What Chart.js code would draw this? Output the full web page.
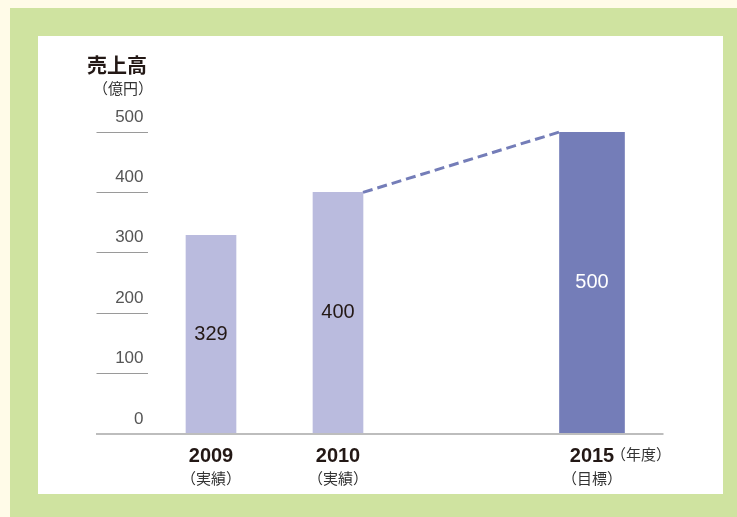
<!DOCTYPE html>
<html lang="ja">
<head>
    <meta charset="UTF-8">
    <title>売上高</title>
    <style>
        * { margin: 0; padding: 0; box-sizing: border-box; }
        body { width: 737px; height: 517px; background: #fffbe8; position: relative; overflow: hidden; }
        .green { position: absolute; left: 10px; top: 8px; right: 0; bottom: 0; background: #cfe3a0; }
        .panel { position: absolute; left: 38px; top: 36px; width: 685px; height: 458px; background: #fff; }
        canvas { position: absolute; left: 0; top: 0; }
    </style>
</head>
<body>
    <div class="green"></div>
    <div class="panel"></div>
    <canvas id="chart" width="737" height="517"></canvas>

    <script src="https://cdn.jsdelivr.net/npm/chart.js"></script>
    <script>
        // データ
        const years = ['2009', '2010', '', '2015'];
        const subLabels = ['（実績）', '（実績）', '', '（目標）'];
        const actual = [329, 400, null, null];
        const target = [null, null, null, 500];
        const yTicks = [0, 100, 200, 300, 400, 500];

        const NUM_FONT = '"Liberation Sans", sans-serif';
        const JP_FONT = '"Noto Sans CJK JP", sans-serif';
        const INK = '#231815';

        const decor = {
            id: 'decor',
            afterDatasetsDraw(chart) {
                const ctx = chart.ctx;
                const ys = chart.scales.y;
                const xs = chart.scales.x;
                const area = chart.chartArea;
                ctx.save();

                // ベースライン
                const y0 = ys.getPixelForValue(0);
                ctx.strokeStyle = '#bdbdbd';
                ctx.lineWidth = 2;
                ctx.beginPath();
                ctx.moveTo(ys.left, y0);
                ctx.lineTo(area.right + 8, y0);
                ctx.stroke();

                // 実績の最後 → 目標 の点線
                let last = -1;
                actual.forEach((v, i) => { if (v != null) last = i; });
                const goal = target.findIndex(v => v != null);
                const a = chart.getDatasetMeta(0).data[last].getProps(['x', 'y', 'width'], true);
                const t = chart.getDatasetMeta(1).data[goal].getProps(['x', 'y', 'width'], true);
                ctx.strokeStyle = '#747db8';
                ctx.lineWidth = 3;
                ctx.setLineDash([10, 5]);
                ctx.beginPath();
                ctx.moveTo(a.x + a.width / 2, a.y);
                ctx.lineTo(t.x - t.width / 2, t.y);
                ctx.stroke();
                ctx.setLineDash([]);

                // 棒の中の数値
                ctx.textAlign = 'center';
                ctx.textBaseline = 'middle';
                ctx.font = '20px ' + NUM_FONT;
                [actual, target].forEach((arr, d) => {
                    chart.getDatasetMeta(d).data.forEach((el, i) => {
                        if (arr[i] == null) return;
                        const p = el.getProps(['x', 'y', 'base'], true);
                        ctx.fillStyle = d === 0 ? INK : '#ffffff';
                        ctx.fillText(String(arr[i]), p.x, (p.y + p.base) / 2);
                    });
                });

                // 単位・タイトル
                ctx.textAlign = 'left';
                ctx.fillStyle = INK;
                ctx.font = 'bold 20px ' + JP_FONT;
                ctx.fillText('売上高', 87, 65);
                ctx.font = '15px ' + JP_FONT;
                ctx.fillStyle = '#333';
                ctx.fillText('（億円）', 93, 88);

                // 年度
                const gx = xs.getPixelForValue(goal);
                ctx.fillText('（年度）', gx + 19, 454);
                ctx.restore();
            }
        };

        new Chart(document.getElementById('chart'), {
            type: 'bar',
            data: {
                labels: years,
                datasets: [
                    { label: '実績', data: actual, backgroundColor: '#babbde', barThickness: 50, grouped: false },
                    { label: '目標', data: target, backgroundColor: '#747db8', barThickness: 65, grouped: false }
                ]
            },
            options: {
                responsive: false,
                animation: false,
                events: [],
                layout: { padding: { left: 96, right: 81.5, top: 132, bottom: 21 } },
                plugins: { legend: { display: false }, tooltip: { enabled: false } },
                scales: {
                    y: {
                        min: 0,
                        max: 500,
                        afterBuildTicks: s => { s.ticks = yTicks.map(v => ({ value: v })); },
                        afterFit: s => { s.width = 51.5; },
                        border: { display: false },
                        grid: { drawOnChartArea: false, drawTicks: true, tickLength: 51, color: '#9a9a9a', lineWidth: 1 },
                        ticks: { labelOffset: -15, padding: -47, color: '#555', font: { family: NUM_FONT, size: 17 } }
                    },
                    x: {
                        offset: true,
                        weight: 0,
                        afterFit: s => { s.height = 32; },
                        border: { display: false },
                        grid: { display: false, drawTicks: false },
                        ticks: { padding: 10, color: INK, autoSkip: false, maxRotation: 0, font: { family: NUM_FONT, size: 20, weight: 'bold' } }
                    },
                    x2: {
                        type: 'category',
                        labels: subLabels,
                        position: 'bottom',
                        offset: true,
                        weight: 1,
                        afterFit: s => { s.height = 30; },
                        border: { display: false },
                        grid: { display: false, drawTicks: false },
                        ticks: { padding: 3, color: '#333', autoSkip: false, maxRotation: 0, font: { family: JP_FONT, size: 15 } }
                    }
                }
            },
            plugins: [decor]
        });
    </script>
</body>
</html>
